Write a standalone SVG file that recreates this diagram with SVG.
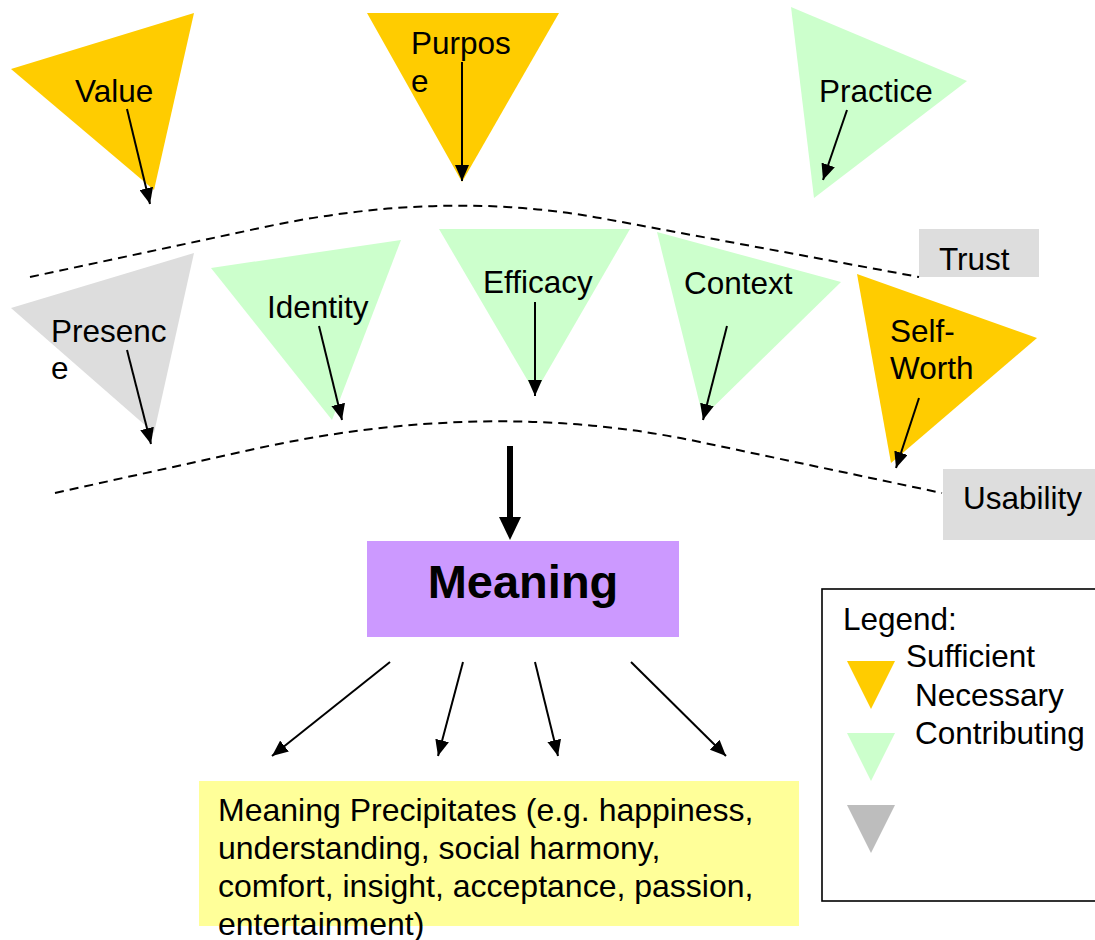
<svg xmlns="http://www.w3.org/2000/svg" width="1095" height="940" viewBox="0 0 1095 940">
  <defs>
    <style>
      text { font-family: "Liberation Sans", Arial, Helvetica, sans-serif; font-size: 31.5px; fill: #000; }
      .suff { fill: #FFCC00; }
      .contrib { fill: #CCFFCC; }
      .nec { fill: #DDDDDD; }
      .legend-grey { fill: #BDBDBD; }
      .tag { fill: #DDDDDD; }
      .band { fill: none; stroke: #000; stroke-width: 2; stroke-dasharray: 9 6; }
      .arrow { fill: none; stroke: #000; stroke-width: 2; marker-end: url(#head); }
      .title { font-weight: bold; font-size: 47px; }
      .body { font-size: 32px; }
    </style>
    <marker id="head" viewBox="0 0 16 14" refX="16" refY="7" markerWidth="16" markerHeight="14" markerUnits="userSpaceOnUse" orient="auto">
      <path d="M0,0 L16,7 L0,14 z" fill="#000"/>
    </marker>
  </defs>

  <rect width="1095" height="940" fill="#fff"/>

  <!-- upper tier -->
  <g id="value">
    <polygon class="suff" points="11,69 194,13 154,190"/>
    <text x="75" y="102">Value</text>
  </g>
  <g id="purpose">
    <polygon class="suff" points="367,13 559,13 462,182"/>
    <text x="411" y="54">Purpos</text>
    <text x="411" y="92">e</text>
  </g>
  <g id="practice">
    <polygon class="contrib" points="791,7 967,81 814,198"/>
    <text x="819" y="102">Practice</text>
  </g>

  <!-- band labels -->
  <g id="trust">
    <rect class="tag" x="919" y="229" width="120" height="48"/>
    <text x="939" y="270">Trust</text>
  </g>
  <g id="usability">
    <rect class="tag" x="943" y="469" width="152" height="71"/>
    <text x="963" y="509">Usability</text>
  </g>

  <!-- middle tier -->
  <g id="presence">
    <polygon class="nec" points="11,308 194,253 154,433"/>
    <text x="51" y="342">Presenc</text>
    <text x="51" y="379">e</text>
  </g>
  <g id="identity">
    <polygon class="contrib" points="211,268 401,240 332,420"/>
    <text x="267" y="318">Identity</text>
  </g>
  <g id="efficacy">
    <polygon class="contrib" points="439,229 630,229 535,393"/>
    <text x="483" y="293">Efficacy</text>
  </g>
  <g id="context">
    <polygon class="contrib" points="657,232 841,282 703,417"/>
    <text x="684" y="294">Context</text>
  </g>
  <g id="self-worth">
    <polygon class="suff" points="857,274 1037,338 891,463"/>
    <text x="890" y="342">Self-</text>
    <text x="890" y="379">Worth</text>
  </g>

  <!-- result -->
  <g id="meaning">
    <rect x="367" y="541" width="312" height="96" fill="#CC99FF"/>
    <text class="title" x="523" y="598" text-anchor="middle">Meaning</text>
  </g>
  <g id="precipitates">
    <rect x="199" y="781" width="600" height="145" fill="#FFFF99"/>
    <text class="body" x="218" y="821">Meaning Precipitates (e.g. happiness,</text>
    <text class="body" x="218" y="859">understanding, social harmony,</text>
    <text class="body" x="218" y="897">comfort, insight, acceptance, passion,</text>
    <text class="body" x="218" y="935">entertainment)</text>
  </g>

  <!-- legend -->
  <g id="legend">
    <rect x="822" y="589" width="290" height="312" fill="#fff" stroke="#000" stroke-width="1.6"/>
    <text x="843" y="630">Legend:</text>
    <polygon class="suff" points="847,661 895,661 871,709"/>
    <text x="906" y="667">Sufficient</text>
    <text x="915" y="706">Necessary</text>
    <text x="915" y="744">Contributing</text>
    <polygon class="contrib" points="847,733 895,733 871,781"/>
    <polygon class="legend-grey" points="847,805 895,805 871,853"/>
  </g>

  <!-- connectors -->
  <g id="connectors">
    <path class="band" d="M30,277 L260,228 Q440,189 600,218 L919,277"/>
    <path class="band" d="M55,493 L250,450 Q487,397 700,442 L942,493"/>

    <path class="arrow" d="M127,109 L150,204"/>
    <path class="arrow" d="M462,62 L462,181"/>
    <path class="arrow" d="M847,110 L823,180"/>
    <path class="arrow" d="M127,350 L151,444"/>
    <path class="arrow" d="M319,326 L342,420"/>
    <path class="arrow" d="M535,302 L535,396"/>
    <path class="arrow" d="M727,326 L703,420"/>
    <path class="arrow" d="M919,398 L896,468"/>

    <line x1="510" y1="446" x2="510" y2="520" stroke="#000" stroke-width="6"/>
    <polygon points="499,517 521,517 510,540" fill="#000"/>

    <path class="arrow" d="M390,662 L272,756"/>
    <path class="arrow" d="M463,662 L438,756"/>
    <path class="arrow" d="M535,662 L558,756"/>
    <path class="arrow" d="M631,662 L726,756"/>
  </g>
</svg>
